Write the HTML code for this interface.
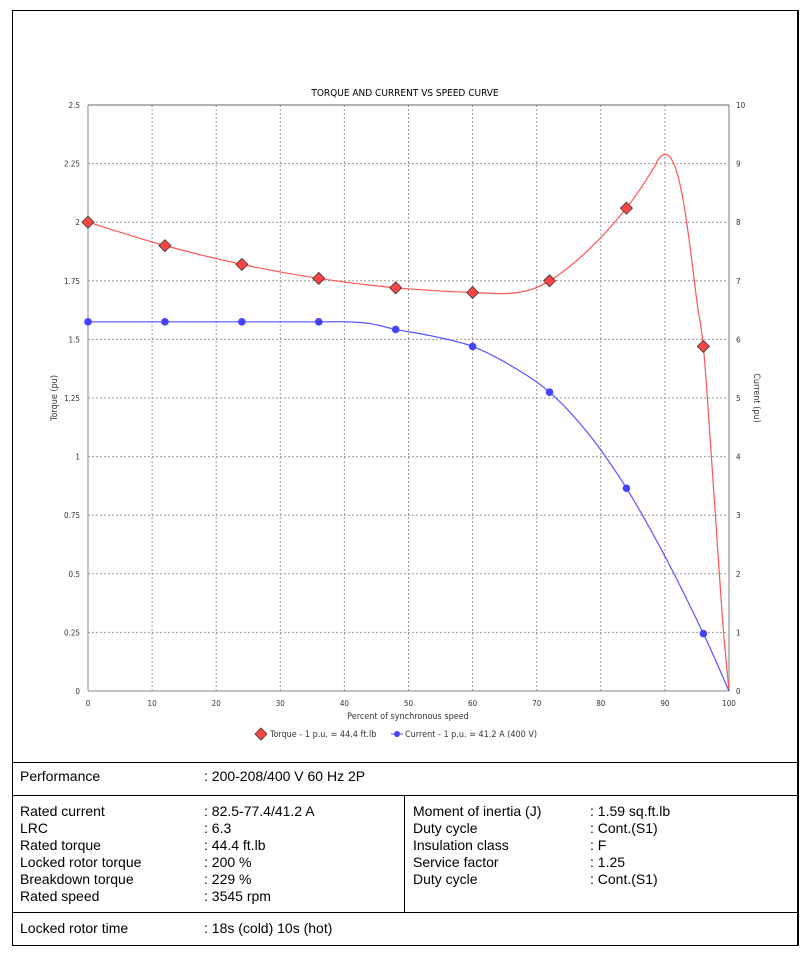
<!DOCTYPE html>
<html><head><meta charset="utf-8"><style>
body{margin:0;background:#fff;width:810px;height:956px;position:relative;overflow:hidden;font-family:"Liberation Sans",sans-serif}
#frame{position:absolute;left:12px;top:10px;width:784px;height:934px;border:1px solid #000;border-width:1px 2px 1px 1px}
.hl{position:absolute;left:12px;width:786px;height:1px;background:#000}
.t{position:absolute;font-size:14px;color:#000;line-height:17px;white-space:nowrap}
</style></head><body>
<div id="frame"></div>
<svg id="chart" width="810" height="760" style="position:absolute;left:0;top:0"></svg>
<div class="hl" style="top:762px"></div>
<div class="hl" style="top:795px"></div>
<div class="hl" style="top:912px"></div>
<div style="position:absolute;left:404px;top:795px;width:1px;height:117px;background:#000"></div>
<div class="t" style="left:20px;top:768px">Performance</div>
<div class="t" style="left:204px;top:768px">: 200-208/400 V 60 Hz 2P</div>
<div class="t" style="left:20px;top:803px">Rated current<br>LRC<br>Rated torque<br>Locked rotor torque<br>Breakdown torque<br>Rated speed</div>
<div class="t" style="left:204px;top:803px">: 82.5-77.4/41.2 A<br>: 6.3<br>: 44.4 ft.lb<br>: 200 %<br>: 229 %<br>: 3545 rpm</div>
<div class="t" style="left:413px;top:803px">Moment of inertia (J)<br>Duty cycle<br>Insulation class<br>Service factor<br>Duty cycle</div>
<div class="t" style="left:590px;top:803px">: 1.59 sq.ft.lb<br>: Cont.(S1)<br>: F<br>: 1.25<br>: Cont.(S1)</div>
<div class="t" style="left:20px;top:920px">Locked rotor time</div>
<div class="t" style="left:204px;top:920px">: 18s (cold) 10s (hot)</div>
<script>
const xTicks=[0,10,20,30,40,50,60,70,80,90,100];
const yLeftTicks=[0,0.25,0.5,0.75,1,1.25,1.5,1.75,2,2.25,2.5];
const yLeftLabels=["0","0.25","0.5","0.75","1","1.25","1.5","1.75","2","2.25","2.5"];
const yRightTicks=[0,1,2,3,4,5,6,7,8,9,10];
const markerX=[0,12,24,36,48,60,72,84,96];
const torqueMarkers=[2.0,1.9,1.82,1.76,1.72,1.70,1.75,2.06,1.47];
const currentMarkers=[6.3,6.3,6.3,6.3,6.17,5.88,5.1,3.46,0.98];
const torqueCurveX=[0,12,24,36,48,60,67,72,78,84,88,89,90,91,92,93,94,95,96,97,98,99,100];
const torqueCurveY=[2.0,1.9,1.82,1.76,1.72,1.70,1.70,1.75,1.88,2.06,2.22,2.27,2.29,2.27,2.2,2.07,1.88,1.66,1.47,1.1,0.7,0.3,0];
const currentCurveX=[0,12,24,36,40,44,48,54,60,66,72,78,84,90,96,100];
const currentCurveY=[6.3,6.3,6.3,6.3,6.3,6.27,6.17,6.05,5.88,5.55,5.1,4.4,3.46,2.3,0.98,0];
const X0=88,X1=729,YB=691,YT=105;
const sx=v=>X0+(X1-X0)*v/100;
const sy=v=>YB-(YB-YT)*v/2.5;
const syr=v=>YB-(YB-YT)*v/10;
const svg=document.getElementById('chart');
const NS='http://www.w3.org/2000/svg';
function mk(tag,attrs,parent){const e=document.createElementNS(NS,tag);for(const k in attrs)e.setAttribute(k,attrs[k]);(parent||svg).appendChild(e);return e;}
function txt(x,y,s,size,anchor,extra){const e=mk('text',Object.assign({x:x,y:y,'font-size':size,'text-anchor':anchor||'middle','font-family':'DejaVu Sans Condensed, Liberation Sans, sans-serif',fill:'#333'},extra||{}));e.textContent=s;return e;}
mk('rect',{x:X0,y:YT,width:X1-X0,height:YB-YT,fill:'#fff'});
xTicks.forEach(v=>{const l=mk('line',{x1:sx(v),x2:sx(v),y1:YT,y2:YB,stroke:'#999','stroke-dasharray':'2,2','stroke-width':1});

const t=txt(sx(v),706,String(v),8);});
yLeftTicks.forEach((v,i)=>{const l=mk('line',{x1:X0,x2:X1,y1:sy(v),y2:sy(v),stroke:'#999','stroke-dasharray':'2,2','stroke-width':1});

const t=txt(80,sy(v)+3,yLeftLabels[i],8,'end');});
yRightTicks.forEach(v=>{const t=txt(736,syr(v)+3,String(v),8,'start');});
mk('line',{x1:X0,x2:X0,y1:YT,y2:YB,stroke:'#888'});
mk('line',{x1:X0,x2:X1,y1:YB,y2:YB,stroke:'#888'});
mk('line',{x1:X1,x2:X1,y1:YT,y2:YB,stroke:'#aaa','stroke-width':1.5});
mk('line',{x1:X0,x2:X1,y1:YT,y2:YT,stroke:'#666'});
function smooth(xs,ys,fy){const p=xs.map((x,i)=>[sx(x),fy(ys[i])]);let d='M'+p[0][0]+','+p[0][1];
for(let i=0;i<p.length-1;i++){const a=p[Math.max(0,i-1)],b=p[i],c=p[i+1],e=p[Math.min(p.length-1,i+2)];
d+=' C'+(b[0]+(c[0]-a[0])/6)+','+(b[1]+(c[1]-a[1])/6)+' '+(c[0]-(e[0]-b[0])/6)+','+(c[1]-(e[1]-b[1])/6)+' '+c[0]+','+c[1];}return d;}
const tl=mk('path',{d:smooth(torqueCurveX,torqueCurveY,sy),fill:'none',stroke:'#f55','stroke-width':1.2});

const cl=mk('path',{d:smooth(currentCurveX,currentCurveY,syr),fill:'none',stroke:'#55f','stroke-width':1.2});

markerX.forEach((x,i)=>{const cx=sx(x),cy=sy(torqueMarkers[i]);
const d=mk('polygon',{points:`${cx},${cy-6} ${cx+6},${cy} ${cx},${cy+6} ${cx-6},${cy}`,fill:'#f44',stroke:'#333','stroke-width':0.8});

const c=mk('circle',{cx:cx,cy:syr(currentMarkers[i]),r:3.3,fill:'#44f',stroke:'#44f'});
});
let e;
e=txt(405,96,'TORQUE AND CURRENT VS SPEED CURVE',10,'middle',{fill:'#000'});
e=txt(408,719,'Percent of synchronous speed',9);
e=txt(0,0,'Torque (pu)',9,'middle',{transform:'translate(57,398) rotate(-90)'});
e=txt(0,0,'Current (pu)',9,'middle',{transform:'translate(754,398) rotate(90)'});
const lg=mk('g',{});
mk('polygon',{points:'261,728 267,734 261,740 255,734',fill:'#f44',stroke:'#333','stroke-width':0.8},lg);
e=txt(270,737,'Torque - 1 p.u. = 44.4 ft.lb',9,'start');lg.appendChild(e);
mk('line',{x1:391,x2:403,y1:734,y2:734,stroke:'#55f'},lg);
mk('circle',{cx:397,cy:734,r:3,fill:'#44f'},lg);
e=txt(405,737,'Current - 1 p.u. = 41.2 A (400 V)',9,'start');lg.appendChild(e);
</script>
</body></html>
